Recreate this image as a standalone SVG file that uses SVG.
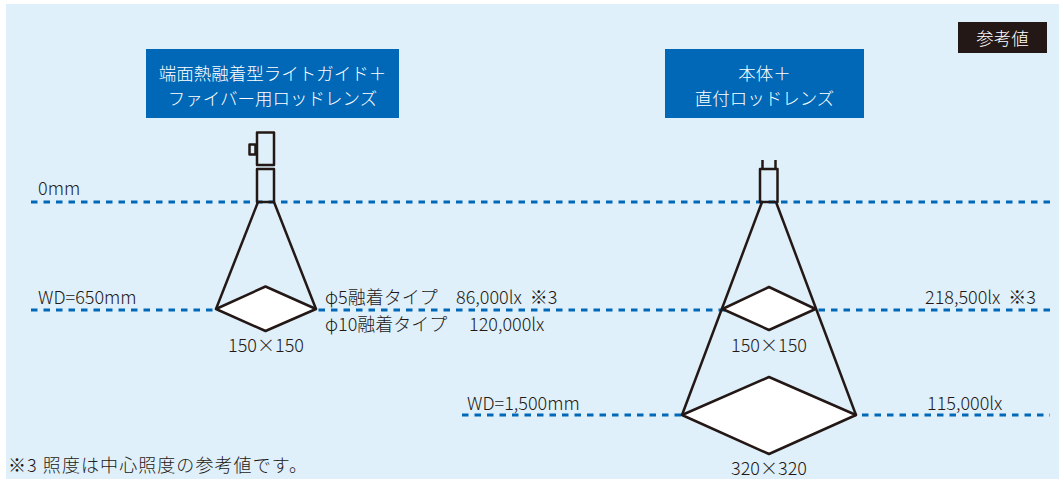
<svg xmlns="http://www.w3.org/2000/svg" width="1059" height="479" viewBox="0 0 1059 479">
<style>
.t{font-family:"Noto Sans CJK JP","Noto Sans",sans-serif;fill:#231815;font-size:18px;font-weight:300}
.w{font-family:"Noto Sans CJK JP","Noto Sans",sans-serif;fill:#ffffff;font-size:17.5px;font-weight:300}
.dl{stroke:#0068b7;stroke-width:3;stroke-dasharray:6.5 6;fill:none}
.ln{stroke:#231815;stroke-width:2.5;fill:none;stroke-linejoin:round}
.dm{stroke:#231815;stroke-width:2.5;fill:#ffffff;stroke-linejoin:round}
.bx{fill:#0068b7}
</style>
<rect x="0" y="0" width="1059" height="479" fill="#ffffff"/>
<rect x="6" y="4" width="1053" height="475" fill="#dff0fa"/>
<g id="connectors">
<line class="dl" x1="31" y1="202" x2="1050" y2="202"/>
<line class="dl" x1="31" y1="310" x2="1050" y2="310"/>
<line class="dl" x1="462" y1="415" x2="1050" y2="415"/>
<line class="ln" x1="258" y1="202" x2="216" y2="309"/>
<line class="ln" x1="274" y1="202" x2="316" y2="309"/>
<line class="ln" x1="762" y1="202" x2="682" y2="415"/>
<line class="ln" x1="776" y1="202" x2="856" y2="415"/>
</g>
<g id="label-ref">
<rect x="958" y="22" width="89" height="31" fill="#231815"/>
<text class="w" x="1002.5" y="45" text-anchor="middle" font-size="21.5">参考値</text>
</g>
<g id="title-left">
<rect class="bx" x="146" y="49" width="253" height="69"/>
<text class="w" x="272.5" y="80" text-anchor="middle">端面熱融着型ライトガイド＋</text>
<text class="w" x="272.5" y="105" text-anchor="middle">ファイバー用ロッドレンズ</text>
</g>
<g id="title-right">
<rect class="bx" x="665" y="49" width="199" height="69"/>
<text class="w" x="764.5" y="80" text-anchor="middle">本体＋</text>
<text class="w" x="764.5" y="105" text-anchor="middle">直付ロッドレンズ</text>
</g>
<g id="device-left">
<rect class="ln" x="257" y="132.5" width="17" height="32.5" fill="#ffffff"/>
<rect class="ln" x="257" y="169" width="17" height="33" fill="#ffffff"/>
<rect class="ln" x="249.5" y="144.5" width="6" height="10" fill="#ffffff" stroke-width="2"/>
</g>
<g id="device-right">
<rect class="ln" x="760" y="169" width="17.5" height="33" fill="#ffffff"/>
<line class="ln" x1="762.5" y1="160" x2="762.5" y2="169"/>
<line class="ln" x1="775.5" y1="160" x2="775.5" y2="169"/>
</g>
<g id="spot-left-650">
<polygon class="dm" points="216,309 265.5,286.5 316,309 265.5,331"/>
<text class="t" x="266" y="352" text-anchor="middle">150×150</text>
</g>
<g id="spot-right-650">
<polygon class="dm" points="722.5,309 769,287 815.5,309 769,330"/>
<text class="t" x="769" y="352" text-anchor="middle">150×150</text>
</g>
<g id="spot-right-1500">
<polygon class="dm" points="682,415 769,377 856,415 769,454"/>
<text class="t" x="769" y="475" text-anchor="middle">320×320</text>
</g>
<g id="labels">
<text class="t" x="38" y="195">0mm</text>
<text class="t" x="38" y="304">WD=650mm</text>
<text class="t" x="467" y="410">WD=1,500mm</text>
<text class="t" x="325" y="304">φ5融着タイプ</text>
<text class="t" x="456" y="304" xml:space="preserve">86,000lx  ※3</text>
<text class="t" x="325" y="331">φ10融着タイプ</text>
<text class="t" x="469" y="331">120,000lx</text>
<text class="t" x="925" y="304" xml:space="preserve">218,500lx  ※3</text>
<text class="t" x="927" y="410">115,000lx</text>
<text class="t" x="8" y="472" font-size="20" textLength="299" lengthAdjust="spacing">※3 照度は中心照度の参考値です。</text>
</g>
</svg>
